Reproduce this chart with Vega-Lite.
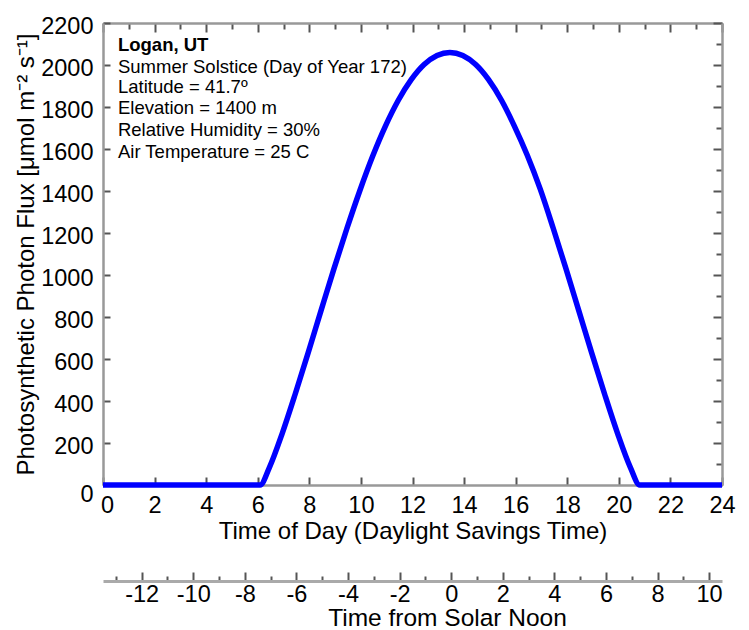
{
  "$schema": "https://vega.github.io/schema/vega-lite/v6.json",
  "width": 619,
  "height": 462,
  "autosize": {"type": "none"},
  "padding": {"left": 103, "top": 23, "right": 27, "bottom": 145},
  "background": "white",
  "config": {
    "view": {"stroke": null},
    "font": "Liberation Sans",
    "axis": {
      "grid": false,
      "labelFont": "Liberation Sans",
      "titleFont": "Liberation Sans",
      "labelColor": "black",
      "titleColor": "black",
      "titleFontWeight": "normal",
      "labelFontSize": 23.5,
      "titleFontSize": 24,
      "domainColor": "#999999",
      "domainWidth": 2.5,
      "tickColor": "#555555",
      "tickWidth": 2,
      "labelOverlap": false,
      "labelFlush": false
    }
  },
  "datasets": {
    "ppf": [
      {"hour": 0, "flux": 0},
      {"hour": 6.09, "flux": 0},
      {"hour": 6.45, "flux": 83},
      {"hour": 6.95, "flux": 246},
      {"hour": 7.45, "flux": 432},
      {"hour": 7.95, "flux": 628},
      {"hour": 8.45, "flux": 829},
      {"hour": 8.95, "flux": 1028},
      {"hour": 9.45, "flux": 1219},
      {"hour": 9.95, "flux": 1399},
      {"hour": 10.45, "flux": 1564},
      {"hour": 10.95, "flux": 1709},
      {"hour": 11.45, "flux": 1832},
      {"hour": 11.95, "flux": 1930},
      {"hour": 12.45, "flux": 2002},
      {"hour": 12.95, "flux": 2045},
      {"hour": 13.45, "flux": 2060},
      {"hour": 13.95, "flux": 2045},
      {"hour": 14.45, "flux": 2002},
      {"hour": 14.95, "flux": 1930},
      {"hour": 15.45, "flux": 1832},
      {"hour": 15.95, "flux": 1709},
      {"hour": 16.45, "flux": 1570},
      {"hour": 16.95, "flux": 1410},
      {"hour": 17.45, "flux": 1225},
      {"hour": 17.95, "flux": 1030},
      {"hour": 18.45, "flux": 829},
      {"hour": 18.95, "flux": 628},
      {"hour": 19.45, "flux": 432},
      {"hour": 19.95, "flux": 246},
      {"hour": 20.45, "flux": 83},
      {"hour": 20.81, "flux": 0},
      {"hour": 24, "flux": 0}
    ],
    "notes": [
      {"kind": "heading", "text": "Logan, UT", "hour": 0.58, "flux": 2095},
      {"kind": "body", "text": "Summer Solstice (Day of Year 172)", "hour": 0.58, "flux": 1992},
      {"kind": "body", "text": "Latitude = 41.7º", "hour": 0.58, "flux": 1895},
      {"kind": "body", "text": "Elevation = 1400 m", "hour": 0.58, "flux": 1793},
      {"kind": "body", "text": "Relative Humidity = 30%", "hour": 0.58, "flux": 1690},
      {"kind": "body", "text": "Air Temperature = 25 C", "hour": 0.58, "flux": 1587}
    ],
    "solar": [{"solar": -13.5}, {"solar": 10.5}]
  },
  "layer": [
    {
      "layer": [
        {
          "data": {"name": "ppf"},
          "mark": {"type": "line", "color": "#0000FF", "strokeWidth": 5.5, "interpolate": "monotone", "clip": false},
          "encoding": {
            "x": {
              "field": "hour", "type": "quantitative",
              "scale": {"domain": [0, 24], "nice": false, "zero": false},
              "axis": {
                "orient": "bottom",
                "title": "Time of Day (Daylight Savings Time)",
                "values": [0,1,2,3,4,5,6,7,8,9,10,11,12,13,14,15,16,17,18,19,20,21,22,23,24],
                "tickSize": {"condition": {"test": "datum.value % 2 === 0", "value": -8}, "value": -5},
                "labelExpr": "datum.value % 2 === 0 ? toString(datum.value) : ''",
                "labelPadding": 16.5,
                "labelOffset": {"condition": {"test": "datum.value === 0", "value": 4}, "value": 0},
                "titleBaseline": "alphabetic",
                "titleY": 53
              }
            },
            "y": {
              "field": "flux", "type": "quantitative",
              "scale": {"domain": [0, 2200], "nice": false, "zero": false},
              "axis": {
                "orient": "left",
                "title": "Photosynthetic Photon Flux [μmol m⁻² s⁻¹]",
                "titleFontSize": 24,
                "values": [0,100,200,300,400,500,600,700,800,900,1000,1100,1200,1300,1400,1500,1600,1700,1800,1900,2000,2100,2200],
                "tickSize": {"condition": {"test": "datum.value % 200 === 0", "value": -7}, "value": -4},
                "labelExpr": "datum.value % 200 === 0 ? toString(datum.value) : ''",
                "labelPadding": 17,
                "labelOffset": {"condition": {"test": "datum.value === 0", "value": 9}, "value": 3},
                "titleBaseline": "alphabetic",
                "titleX": -70
              }
            }
          }
        },
        {
          "data": {"name": "notes"},
          "transform": [{"filter": "datum.kind === 'heading'"}],
          "mark": {"type": "text", "align": "left", "baseline": "middle", "fontSize": 18.5, "fontWeight": "bold", "font": "Liberation Sans", "color": "black"},
          "encoding": {
            "x": {"field": "hour", "type": "quantitative"},
            "y": {"field": "flux", "type": "quantitative"},
            "text": {"field": "text"}
          }
        },
        {
          "data": {"name": "notes"},
          "transform": [{"filter": "datum.kind === 'body'"}],
          "mark": {"type": "text", "align": "left", "baseline": "middle", "fontSize": 18.5, "font": "Liberation Sans", "color": "black"},
          "encoding": {
            "x": {"field": "hour", "type": "quantitative"},
            "y": {"field": "flux", "type": "quantitative"},
            "text": {"field": "text"}
          }
        }
      ]
    },
    {
      "data": {"name": "ppf"},
      "mark": {"type": "line", "strokeOpacity": 0},
      "encoding": {
        "x": {
          "field": "hour", "type": "quantitative",
          "scale": {"domain": [0, 24], "nice": false, "zero": false},
          "axis": {
            "orient": "top", "title": null, "labels": false,
            "values": [0,1,2,3,4,5,6,7,8,9,10,11,12,13,14,15,16,17,18,19,20,21,22,23,24],
            "tickSize": {"condition": {"test": "datum.value % 2 === 0", "value": -9}, "value": -6}
          }
        },
        "y": {
          "field": "flux", "type": "quantitative",
          "scale": {"domain": [0, 2200], "nice": false, "zero": false},
          "axis": {
            "orient": "right", "title": null, "labels": false,
            "values": [0,100,200,300,400,500,600,700,800,900,1000,1100,1200,1300,1400,1500,1600,1700,1800,1900,2000,2100,2200],
            "tickSize": {"condition": {"test": "datum.value % 200 === 0", "value": -9}, "value": -6}
          }
        }
      }
    },
    {
      "data": {"name": "solar"},
      "mark": {"type": "point", "opacity": 0},
      "encoding": {
        "x": {
          "field": "solar", "type": "quantitative",
          "scale": {"domain": [-13.5, 10.5], "nice": false, "zero": false},
          "axis": {
            "orient": "bottom",
            "offset": 96,
            "title": "Time from Solar Noon",
            "titleFontSize": 24.5,
            "labelFontSize": 23.5,
            "values": [-13,-12,-11,-10,-9,-8,-7,-6,-5,-4,-3,-2,-1,0,1,2,3,4,5,6,7,8,9,10],
            "tickSize": {"condition": {"test": "datum.value % 2 === 0", "value": -9}, "value": -5},
            "labelExpr": "datum.value % 2 === 0 ? toString(datum.value) : ''",
            "labelPadding": 10,
            "domainColor": "#aaaaaa",
            "domainWidth": 3,
            "titleBaseline": "alphabetic",
            "titleAlign": "center",
            "titleX": 344,
            "titleY": 44.5
          }
        }
      }
    }
  ],
  "resolve": {"scale": {"x": "independent", "y": "independent"}}
}
